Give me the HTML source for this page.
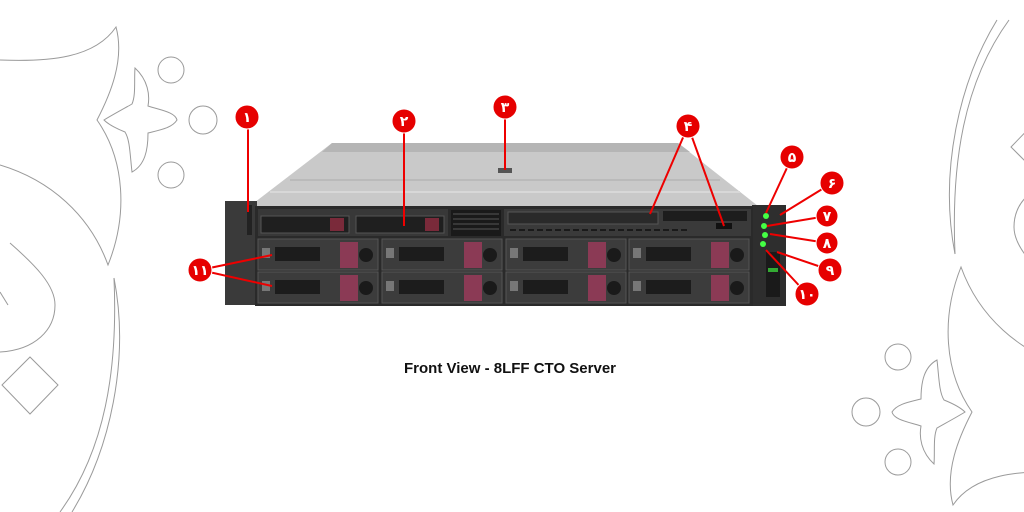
<!DOCTYPE html>
<html><head><meta charset="utf-8"><style>
html,body{margin:0;padding:0;background:#fff;width:1024px;height:512px;overflow:hidden}
svg{display:block}
</style></head><body>
<svg width="1024" height="512" viewBox="0 0 1024 512" xmlns="http://www.w3.org/2000/svg">
<defs>
<g id="deco" fill="none" stroke="#9a9a9a" stroke-width="1">
  <path d="M0,60 C50,62 95,58 116,27 C125,60 110,95 97,120 C125,160 128,215 108,265 C90,215 50,180 0,165"/>
  <path d="M135,68 C148,80 150,95 148,106 C160,110 175,112 177,120 C172,128 160,130 148,133 C148,150 145,165 132,172 C130,155 130,140 125,132 C115,128 108,124 104,120 C112,115 125,108 132,104 C136,95 134,80 135,68 Z"/>
  <circle cx="171" cy="70" r="13"/><circle cx="203" cy="120" r="14"/><circle cx="171" cy="175" r="13"/>
  <path d="M114,278 C130,360 110,450 72,512"/>
  <path d="M114,278 C118,370 105,450 60,512"/>
  <path d="M10,243 C35,265 55,285 55,305 C55,330 35,350 0,352"/>
  <path d="M0,292 L8,305" stroke-width="1"/>
  <path d="M30,357 L58,385 L30,414 L2,385 Z"/>
</g>
</defs>
<use href="#deco"/>
<use href="#deco" transform="translate(1069,532) rotate(180)"/>

<!-- server top -->
<polygon points="332,143 678,143 758,206 250,206" fill="#c9c9c9"/>
<polygon points="332,143 678,143 690,152 322,152" fill="#b5b5b5"/>
<line x1="290" y1="180" x2="720" y2="180" stroke="#aaa" stroke-width="1"/>
<line x1="270" y1="192" x2="740" y2="192" stroke="#d8d8d8" stroke-width="2"/>
<rect x="498" y="168" width="14" height="5" fill="#555"/>
<!-- ears -->
<rect x="225" y="201" width="32" height="104" fill="#3a3a3a"/>
<rect x="247" y="205" width="5" height="30" fill="#222"/>
<rect x="752" y="205" width="34" height="101" fill="#2e2e2e"/>
<rect x="766" y="252" width="14" height="45" fill="#1a1a1a"/>
<rect x="768" y="268" width="10" height="4" fill="#3a3"/>
<!-- front panel -->
<rect x="255" y="206" width="498" height="100" fill="#2a2a2a"/>
<rect x="258" y="209" width="190" height="27" fill="#383838"/>
<rect x="261" y="216" width="88" height="17" fill="#1f1f1f" stroke="#555"/>
<rect x="356" y="216" width="88" height="17" fill="#1f1f1f" stroke="#555"/>
<rect x="330" y="218" width="14" height="13" fill="#7a2a3a"/>
<rect x="425" y="218" width="14" height="13" fill="#7a2a3a"/>
<rect x="451" y="210" width="50" height="26" fill="#1a1a1a"/>
<g stroke="#555" stroke-width="1">
<line x1="453" y1="214" x2="499" y2="214"/><line x1="453" y1="219" x2="499" y2="219"/><line x1="453" y1="224" x2="499" y2="224"/><line x1="453" y1="229" x2="499" y2="229"/>
</g>
<rect x="504" y="209" width="247" height="27" fill="#3a3a3a"/>
<rect x="508" y="212" width="150" height="12" fill="#2a2a2a" stroke="#555"/>
<rect x="663" y="211" width="84" height="10" fill="#1d1d1d"/>
<rect x="716" y="223" width="16" height="6" fill="#111"/>
<line x1="510" y1="230" x2="690" y2="230" stroke="#1a1a1a" stroke-width="2" stroke-dasharray="6,3"/>
<g id="bay">
<rect x="258" y="239" width="120" height="31" fill="#3c3c3c" stroke="#555"/>
<rect x="275" y="247" width="45" height="14" fill="#1c1c1c"/>
<rect x="340" y="242" width="18" height="26" fill="#8b3a55"/>
<circle cx="366" cy="255" r="7" fill="#1a1a1a"/>
<rect x="262" y="248" width="8" height="10" fill="#777"/>
</g>
<use href="#bay" x="124"/><use href="#bay" x="248"/><use href="#bay" x="371"/>
<use href="#bay" y="33"/><use href="#bay" x="124" y="33"/><use href="#bay" x="248" y="33"/><use href="#bay" x="371" y="33"/>
<g fill="#4f4">
<circle cx="766" cy="216" r="3"/><circle cx="764" cy="226" r="3"/><circle cx="765" cy="235" r="3"/><circle cx="763" cy="244" r="3"/>
</g>

<!-- callout lines -->
<g stroke="#e00" stroke-width="2" fill="none">
<line x1="248" y1="117" x2="248" y2="212"/>
<line x1="404" y1="121" x2="404" y2="226"/>
<line x1="505" y1="107" x2="505" y2="170"/>
<line x1="688" y1="126" x2="650" y2="214"/>
<line x1="688" y1="126" x2="724" y2="226"/>
<line x1="792" y1="157" x2="766" y2="213"/>
<line x1="832" y1="183" x2="780" y2="215"/>
<line x1="827" y1="216" x2="767" y2="226"/>
<line x1="827" y1="243" x2="770" y2="234"/>
<line x1="830" y1="270" x2="777" y2="252"/>
<line x1="807" y1="294" x2="766" y2="250"/>
<line x1="200" y1="270" x2="272" y2="255"/>
<line x1="200" y1="270" x2="272" y2="286"/>
</g>
<g fill="#e60000" stroke="#fff" stroke-width="1">
<circle cx="247" cy="117" r="12"/><circle cx="404" cy="121" r="12"/><circle cx="505" cy="107" r="12"/>
<circle cx="688" cy="126" r="12"/><circle cx="792" cy="157" r="12"/><circle cx="832" cy="183" r="12"/>
<circle cx="827" cy="216" r="11"/><circle cx="827" cy="243" r="11"/><circle cx="830" cy="270" r="12"/>
<circle cx="807" cy="294" r="12"/><circle cx="200" cy="270" r="12"/>
</g>
<g fill="#fff" font-family="'DejaVu Sans',sans-serif" font-weight="bold" font-size="14" text-anchor="middle">
<text x="247" y="122">١</text><text x="404" y="126">٢</text><text x="505" y="112">٣</text>
<text x="688" y="131">۴</text><text x="792" y="162">۵</text><text x="832" y="188">۶</text>
<text x="827" y="221">٧</text><text x="827" y="248">٨</text><text x="830" y="275">٩</text>
<text x="807" y="299">١٠</text><text x="200" y="275">١١</text>
</g>
<text x="510" y="373" font-family="'Liberation Sans',sans-serif" font-weight="bold" font-size="15" text-anchor="middle" fill="#111">Front View - 8LFF CTO Server</text>
</svg>
</body></html>
